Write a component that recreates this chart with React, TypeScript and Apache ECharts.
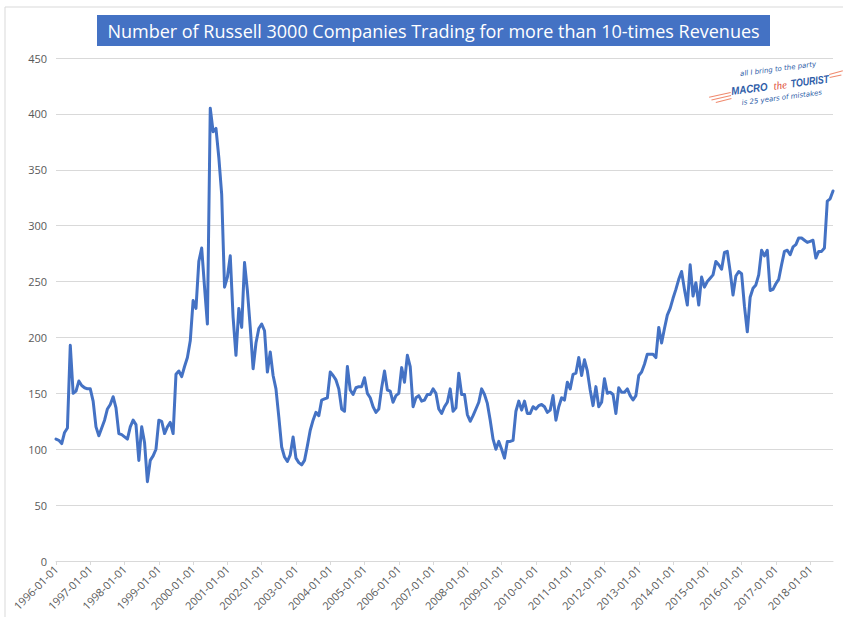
import React, { useEffect, useRef } from "react";
import * as echarts from "echarts";

const TITLE = "Number of Russell 3000 Companies Trading for more than 10-times Revenues";
const START_YEAR = 1996;

// Monthly counts, 1996-01 .. 2018-09
const v1996_1999 = [
  109, 108, 105, 115, 119, 193, 150, 152, 161, 157, 155, 154,
  154, 143, 120, 112, 119, 126, 136, 140, 147, 137, 114, 113,
  111, 109, 120, 126, 122, 90, 120, 106, 71, 90, 94, 100,
  126, 125, 114, 120, 124, 114, 167, 170, 165, 174, 182, 197,
];
const v2000_2003 = [
  233, 226, 268, 280, 245, 212, 405, 384, 387, 361, 328, 245,
  254, 273, 218, 184, 226, 209, 267, 242, 209, 172, 195, 208,
  212, 206, 169, 187, 166, 154, 129, 102, 93, 89, 95, 111,
  92, 88, 86, 90, 103, 117, 126, 133, 130, 144, 145, 146,
];
const v2004_2007 = [
  169, 166, 162, 154, 136, 134, 174, 153, 149, 155, 156, 156,
  164, 150, 146, 138, 133, 136, 155, 170, 153, 152, 142, 148,
  150, 173, 160, 184, 174, 138, 146, 148, 143, 144, 149, 149,
  154, 150, 136, 132, 138, 142, 154, 134, 137, 168, 149, 149,
];
const v2008_2011 = [
  131, 125, 130, 136, 142, 154, 149, 141, 126, 109, 100, 107,
  100, 92, 107, 107, 108, 134, 143, 135, 143, 132, 132, 138,
  136, 139, 140, 138, 133, 135, 148, 126, 138, 146, 144, 160,
  154, 167, 168, 182, 166, 180, 170, 153, 139, 156, 138, 142,
];
const v2012_2015 = [
  163, 150, 151, 149, 132, 155, 151, 151, 154, 148, 144, 148,
  166, 169, 176, 185, 185, 185, 182, 209, 195, 208, 220, 226,
  235, 243, 252, 259, 243, 229, 265, 237, 249, 229, 254, 245,
  250, 253, 256, 268, 265, 261, 276, 277, 259, 238, 255, 259,
];
const v2016_2018 = [
  257, 228, 205, 236, 244, 247, 256, 278, 273, 278, 242, 243,
  248, 252, 265, 277, 278, 274, 281, 283, 289, 289, 287, 285,
  286, 287, 271, 277, 277, 280, 322, 324, 331,
];

const values = [...v1996_1999, ...v2000_2003, ...v2004_2007, ...v2008_2011, ...v2012_2015, ...v2016_2018];

const categories: string[] = values.map((_, i) => {
  const y = START_YEAR + Math.floor(i / 12);
  const m = (i % 12) + 1;
  return `${y}-${m < 10 ? "0" + m : m}-01`;
});

const LINE_COLOR = "#4472C4";
const GRID_COLOR = "#D9D9D9";
const LABEL_COLOR = "#595959";
const FONT = "'Open Sans', 'Liberation Sans', sans-serif";
const LOGO_BLUE = "#2E5DA8";
const LOGO_RED = "#F08A6E";

export default function App() {
  const ref = useRef<HTMLDivElement>(null);
  useEffect(() => {
    if (!ref.current) return;
    const chart = echarts.init(ref.current, null, { renderer: "svg" });
    chart.setOption({
      animation: false,
      backgroundColor: "#ffffff",
      grid: { left: 56, right: 10, top: 58, bottom: 56, containLabel: false },
      xAxis: {
        type: "category",
        data: categories,
        boundaryGap: false,
        axisLine: { show: true, lineStyle: { color: GRID_COLOR, width: 1 } },
        axisTick: { show: true, interval: 11, length: 4, lineStyle: { color: GRID_COLOR } },
        axisLabel: {
          interval: 11,
          rotate: 45,
          color: LABEL_COLOR,
          fontSize: 11,
          fontFamily: FONT,
          margin: 6,
        },
        splitLine: { show: false },
      },
      yAxis: {
        type: "value",
        min: 0,
        max: 450,
        interval: 50,
        axisLine: { show: false },
        axisTick: { show: false },
        axisLabel: { color: LABEL_COLOR, fontSize: 11, fontFamily: FONT, margin: 9 },
        splitLine: { show: true, lineStyle: { color: GRID_COLOR, width: 1 } },
      },
      series: [
        {
          type: "line",
          data: values,
          showSymbol: false,
          smooth: false,
          lineStyle: { color: LINE_COLOR, width: 3, join: "round", cap: "round" },
          itemStyle: { color: LINE_COLOR },
        },
      ],
      graphic: [
        {
          type: "rect",
          shape: { x: 5, y: 7, width: 860, height: 640 },
          style: { fill: "none", stroke: GRID_COLOR, lineWidth: 1 },
          silent: true,
          z: -1,
        },
        {
          type: "rect",
          shape: { x: 97, y: 15, width: 673, height: 31 },
          style: { fill: LINE_COLOR },
        },
        {
          type: "text",
          x: 433.5,
          y: 30.5,
          style: {
            text: TITLE,
            fill: "#ffffff",
            fontSize: 18,
            fontFamily: FONT,
            align: "center",
            verticalAlign: "middle",
          },
        },
        {
          type: "group",
          x: 780,
          y: 84,
          rotation: 0.13,
          children: [
            { type: "line", shape: { x1: -72, y1: 4, x2: -50, y2: 2 }, style: { stroke: LOGO_RED, lineWidth: 1 } },
            { type: "line", shape: { x1: -70, y1: 7, x2: -50, y2: 5 }, style: { stroke: LOGO_RED, lineWidth: 1 } },
            { type: "line", shape: { x1: -66, y1: 10, x2: -50, y2: 8 }, style: { stroke: LOGO_RED, lineWidth: 1 } },
            { type: "line", shape: { x1: 50, y1: -3, x2: 64, y2: -5 }, style: { stroke: LOGO_RED, lineWidth: 1 } },
            { type: "line", shape: { x1: 50, y1: 0, x2: 62, y2: -1 }, style: { stroke: LOGO_RED, lineWidth: 1 } },
            {
              type: "text",
              x: 0,
              y: -15,
              style: {
                text: "all I bring to the party",
                fill: LOGO_BLUE,
                fontSize: 7,
                fontStyle: "italic",
                fontFamily: "'DejaVu Sans', sans-serif",
                align: "center",
                verticalAlign: "middle",
              },
            },
            {
              type: "text",
              x: -31,
              y: 1,
              scaleX: 0.88,
              style: {
                text: "MACRO",
                fill: LOGO_BLUE,
                fontSize: 11,
                fontWeight: "bold",
                fontStyle: "italic",
                fontFamily: "'Liberation Sans', sans-serif",
                align: "center",
                verticalAlign: "middle",
              },
            },
            {
              type: "text",
              x: 0,
              y: 1,
              style: {
                text: "the",
                fill: "#E0503C",
                fontSize: 11,
                fontStyle: "italic",
                fontFamily: "'Liberation Serif', serif",
                align: "center",
                verticalAlign: "middle",
              },
            },
            {
              type: "text",
              x: 30,
              y: 1,
              scaleX: 0.8,
              style: {
                text: "TOURIST",
                fill: LOGO_BLUE,
                fontSize: 11,
                fontWeight: "bold",
                fontStyle: "italic",
                fontFamily: "'Liberation Sans', sans-serif",
                align: "center",
                verticalAlign: "middle",
              },
            },
            {
              type: "text",
              x: 0,
              y: 14,
              style: {
                text: "is 25 years of mistakes",
                fill: LOGO_BLUE,
                fontSize: 7,
                fontStyle: "italic",
                fontFamily: "'DejaVu Sans', sans-serif",
                align: "center",
                verticalAlign: "middle",
              },
            },
          ],
        },
      ],
    });
    return () => chart.dispose();
  }, []);
  return (
    <div
      ref={ref}
      style={{ position: "fixed", left: 0, top: 0, width: 843, height: 617, background: "#fff" }}
    />
  );
}
